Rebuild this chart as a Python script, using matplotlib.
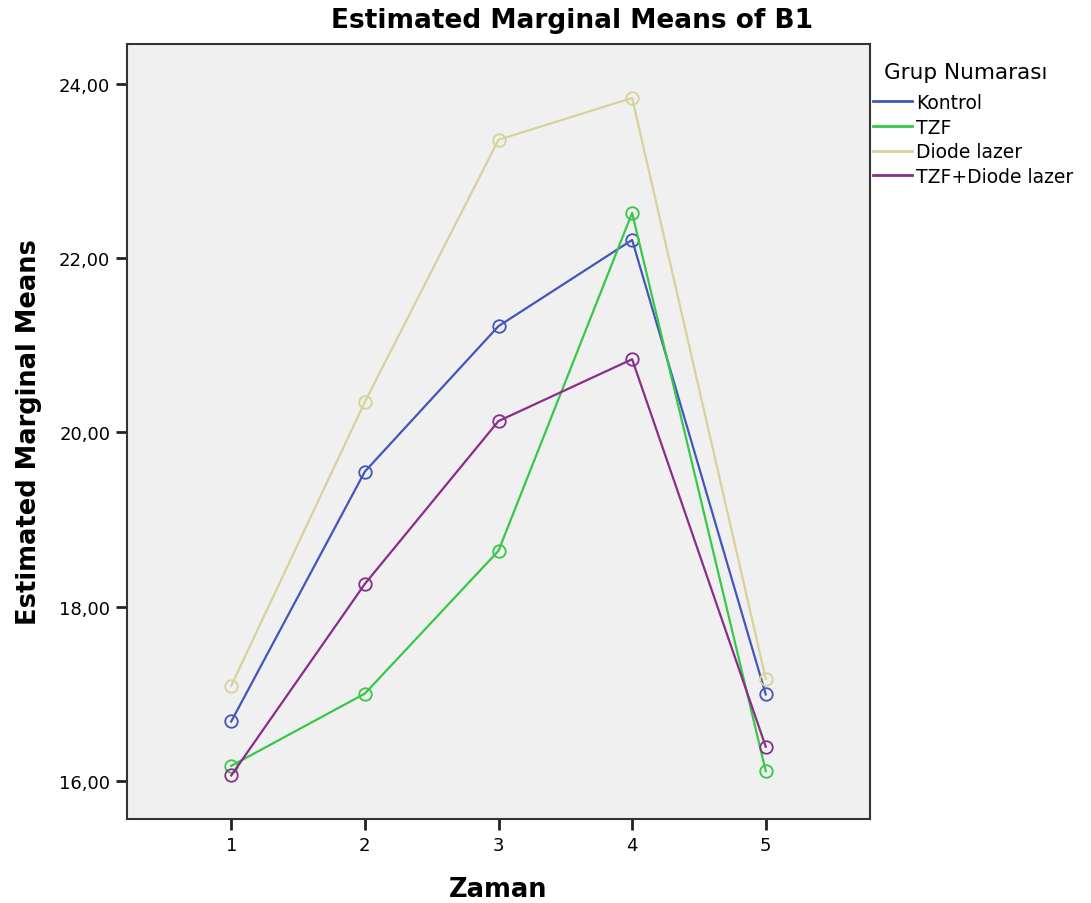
import matplotlib
matplotlib.use('Agg')
import matplotlib.pyplot as plt
from matplotlib.lines import Line2D

# Zaman levels and estimated marginal means per group
zaman = [1, 2, 3, 4, 5]
kontrol = [16.68, 19.55, 21.22, 22.21, 16.99]
tzf = [16.17, 17.00, 18.64, 22.52, 16.11]
diode = [17.09, 20.35, 23.36, 23.84, 17.17]
tzf_diode = [16.06, 18.26, 20.13, 20.84, 16.39]

groups = ['Kontrol', 'TZF', 'Diode lazer', 'TZF+Diode lazer']
colors = ['#4256bb', '#38c848', '#d8d29a', '#8a2c8a']
yticks = [16, 18, 20, 22, 24]
ytick_labels = ['16,00', '18,00', '20,00', '22,00', '24,00']

fig = plt.figure(figsize=(10.91, 9.04), dpi=100)
ax = fig.add_axes([127 / 1091, 1 - 820 / 904, (870 - 127) / 1091, (820 - 45) / 904])
ax.set_facecolor('#f0f0f0')

for vals, name, c in zip([kontrol, tzf, diode, tzf_diode], groups, colors):
    ax.plot(zaman, vals, color=c, lw=1.6, marker='o', markersize=9,
            markerfacecolor='none', markeredgecolor=c, markeredgewidth=1.3)

ax.set_xlim(0.22, 5.78)
ax.set_ylim(15.56, 24.46)
ax.set_xticks(zaman)
ax.set_yticks(yticks)
ax.set_yticklabels(ytick_labels)
ax.tick_params(labelsize=13, length=8, width=2, color='#222222', pad=4)
for s in ax.spines.values():
    s.set_linewidth(1.5)
    s.set_color('#333333')

fig.text(572 / 1091, 1 - 21 / 904, 'Estimated Marginal Means of B1', fontsize=19,
         fontweight='bold', ha='center', va='center')
ax.set_xlabel('Zaman', fontsize=18.5, fontweight='bold', labelpad=16)
ax.set_ylabel('Estimated Marginal Means', fontsize=18.5, fontweight='bold', labelpad=12)

# legend: title as separate text, entries below it
fig.text(884 / 1091, 1 - 73 / 904, 'Grup Numarası', fontsize=15.5, ha='left', va='center')
handles = [Line2D([], [], color=c, lw=2) for c in colors]
leg = fig.legend(handles, groups, loc='upper left', bbox_to_anchor=(873 / 1091, 1 - 94 / 904),
                 bbox_transform=fig.transFigure, frameon=False, fontsize=13.5,
                 handlelength=2.1, handletextpad=0.2, labelspacing=0.3,
                 borderaxespad=0, borderpad=0)

fig.savefig('out.png', dpi=100)
